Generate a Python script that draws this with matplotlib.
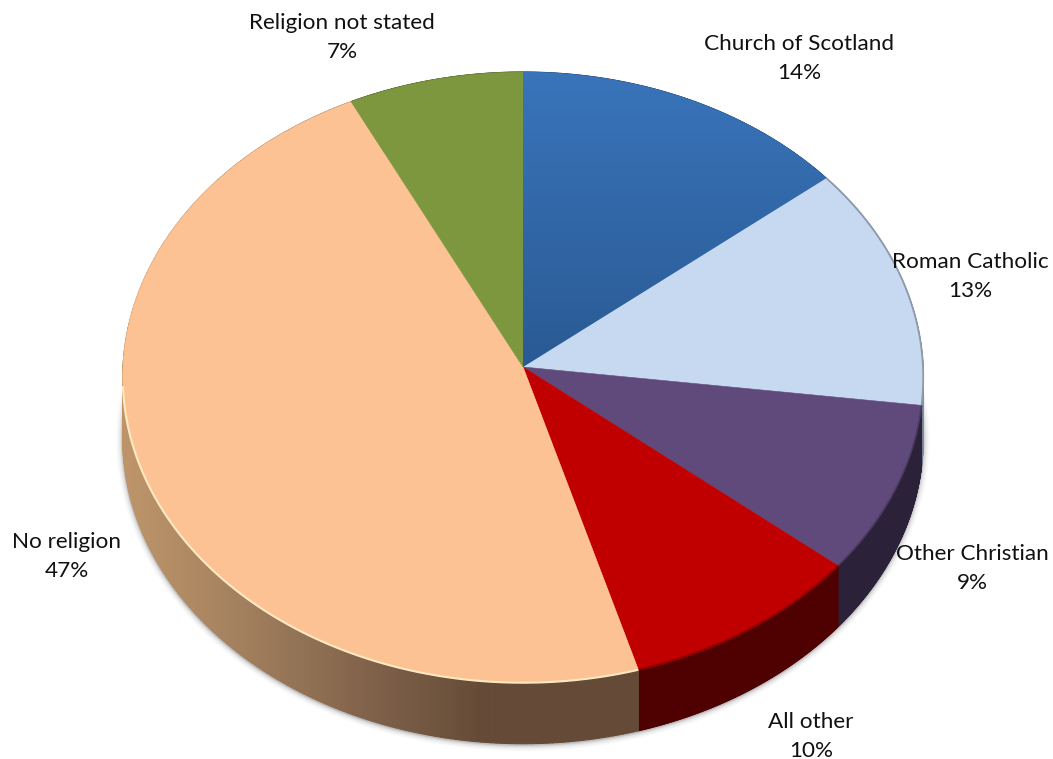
import numpy as np
import matplotlib
matplotlib.use("Agg")
import matplotlib.pyplot as plt
from matplotlib.collections import PolyCollection
from matplotlib.colors import to_rgb, LinearSegmentedColormap
from matplotlib.transforms import Transform

categories = ["Church of Scotland", "Roman Catholic", "Other Christian",
              "All other", "No religion", "Religion not stated"]
shares = [14.1, 12.9, 9.0, 9.5, 47.2, 7.3]
shown_percent = [14, 13, 9, 10, 47, 7]

top_colors = ["#3570b4", "#c6d9f1", "#604a7b", "#c00000", "#fdc293", "#7d973f"]
wall_colors = ["#1d3a5f", "#7f8fa5", "#2b2139", "#4f0000", "#654b37", "#4a5a26"]
label_xy = [(799, 57), (970, 275), (972, 567), (811, 735), (67, 555), (342, 36)]

CX, CY, RX, RY, PERSP, DEPTH = 523.0, 367.0, 400.0, 305.0, 0.034, 61.0


class Tilt(Transform):
    input_dims = output_dims = 2
    is_separable = False
    has_inverse = False

    def __init__(self, drop=0.0):
        super().__init__()
        self.drop = drop

    def transform_non_affine(self, values):
        v = np.asarray(values, float)
        w = 1 + PERSP * v[:, 1]
        return np.column_stack([CX + RX * v[:, 0] / w,
                                CY + self.drop - RY * v[:, 1] / w])


plt.rcParams["font.family"] = ["Lato", "DejaVu Sans"]
fig = plt.figure(figsize=(10.53, 7.59), dpi=100, facecolor="white")
ax = fig.add_axes([0, 0, 1, 1])

wedges, _ = ax.pie(shares, colors=top_colors, startangle=90, counterclock=False,
                   wedgeprops={"linewidth": 0})
ax.set_aspect("auto")
top = Tilt() + ax.transData
for w, c in zip(wedges, top_colors):
    w.set_transform(top)
    w.set_zorder(5)
    w.set_edgecolor(c)
    w.set_linewidth(0.4)

edges = np.cumsum([0] + shares) / sum(shares)


def rim(f0, f1, n=240):
    phi = np.pi / 2 - 2 * np.pi * np.linspace(f0, f1, n)
    return np.column_stack([np.cos(phi), np.sin(phi)])


# soft shadow beyond the lower edge of the wall
base = Tilt(DEPTH).transform(rim(0, 1, 500))
for lw, a in [(9, 0.03), (7, 0.04), (5, 0.06), (3, 0.10), (1.5, 0.16)]:
    ax.fill(base[:, 0], base[:, 1] + 1, fc="none", ec=(0.25, 0.25, 0.28, a), lw=lw, zorder=1)

# wall, built from the same slices
upper, lower = Tilt(), Tilt(DEPTH)
polys, cols = [], []
for i, col in enumerate(wall_colors):
    pts = rim(edges[i], edges[i + 1])
    a, b = upper.transform(pts), lower.transform(pts)
    for j in range(len(pts) - 1):
        polys.append([a[j], a[j + 1], b[j + 1], b[j]])
        if categories[i] == "No religion":
            xm = 0.5 * (a[j, 0] + a[j + 1, 0])
            stops = np.array([to_rgb(c) for c in ("#bd9469", "#a5825f", "#80624a", "#654b37")])
            cols.append([np.interp(xm, [130, 230, 370, 480], stops[:, k]) for k in range(3)])
        else:
            cols.append(to_rgb(col))
ax.add_collection(PolyCollection(polys, facecolors=cols, edgecolors=cols, linewidths=0.8, zorder=2))

# vertical shading on the first slice
ramp = LinearSegmentedColormap.from_list("ramp", ["#3a76bd", "#2a5a94"])
im = ax.imshow(np.linspace(0, 1, 256)[:, None], cmap=ramp, aspect="auto", zorder=6,
               extent=(CX - RX, CX + RX, CY, CY - RY - 10), interpolation="bilinear")
im.set_clip_path(wedges[0])


# bevel highlights along the rim
def bevel(f0, f1, color, lw, alpha=1.0):
    p = Tilt().transform(rim(f0, f1))
    ax.plot(p[:, 0], p[:, 1], color=color, lw=lw, alpha=alpha, zorder=7, solid_capstyle="butt")


bevel(edges[1], edges[2], "#8e9aab", 1.3)
bevel(edges[2], edges[3], "#4a3a60", 1.2)
bevel(edges[3], edges[4], "#8f0000", 1.6)
bevel(edges[4], 0.74, "#ffe9c2", 1.5)

for name, val, (x, y) in zip(categories, shown_percent, label_xy):
    ax.text(x, y + 1.5, f"{name}\n{val}%", ha="center", va="center", fontsize=16.2,
            linespacing=1.58, color="#111111", zorder=10)

ax.set_xlim(0, 1053)
ax.set_ylim(759, 0)
ax.axis("off")
fig.savefig("out.png", dpi=100)
